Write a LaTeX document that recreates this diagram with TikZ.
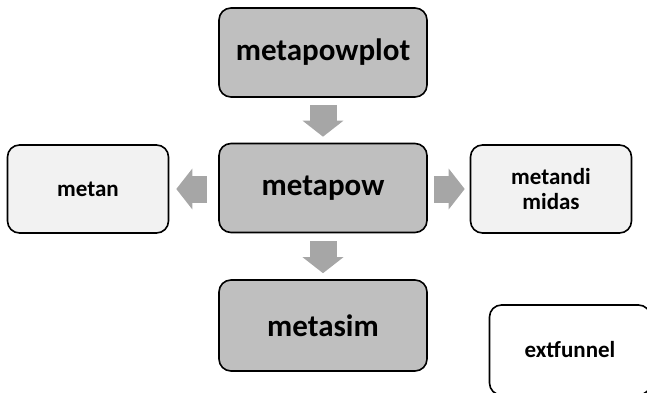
\documentclass[tikz,border=0pt]{standalone}
\usepackage{fontspec}
\setmainfont{Carlito}
\usetikzlibrary{arrows.meta}
\definecolor{boxdark}{HTML}{BFBFBF}
\definecolor{boxlight}{HTML}{F2F2F2}
\definecolor{arrowgray}{HTML}{A6A6A6}
\tikzset{
  module/.style={draw=black, line width=1.6pt, rounded corners=12pt,
    align=center, inner sep=2pt, font=\bfseries},
  mainmod/.style={module, fill=boxdark, minimum width=208pt, minimum height=89pt,
    font=\bfseries\fontsize{31}{35}\selectfont},
  sidemod/.style={module, fill=boxlight, minimum width=161pt, minimum height=88pt,
    font=\bfseries\fontsize{23}{25}\selectfont},
  blockarrow/.style={draw=arrowgray, line width=27pt,
    -{Triangle[width=40pt,length=16pt]}},
}
\begin{document}
\begin{tikzpicture}[x=1pt,y=-1pt]
  \useasboundingbox (0,0) rectangle (647,393);
  \node[mainmod] (plot) at (323,52.5) {metapowplot};
  \node[mainmod] (pow) at (323,188) {metapow};
  \node[mainmod, minimum height=91pt] (sim) at (323,325.5) {metasim};
  \node[sidemod] (metan) at (88,189) {metan};
  \node[sidemod] (midas) at (551,189) {metandi\\midas};
  \node[sidemod, fill=white, minimum height=90pt] (funnel) at (570,350) {extfunnel};
  \draw[blockarrow, shorten <=7pt, shorten >=6pt] (plot.south) -- (pow.north);
  \draw[blockarrow, shorten <=8pt, shorten >=6pt] (pow.south) -- (sim.north);
  \draw[blockarrow, shorten <=11pt, shorten >=7pt] (pow.west |- metan.east) -- (metan.east);
  \draw[blockarrow, shorten <=6pt, shorten >=5pt] (pow.east |- midas.west) -- (midas.west);
\end{tikzpicture}
\end{document}
